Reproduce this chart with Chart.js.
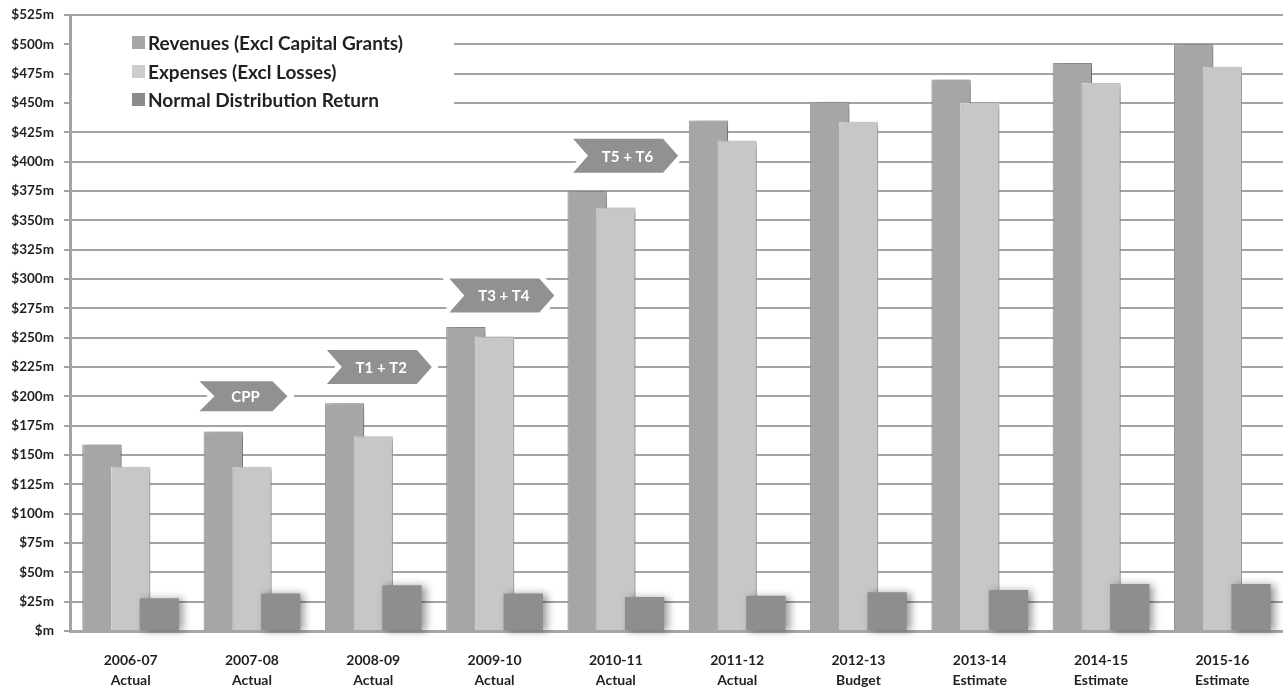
<!DOCTYPE html>
<html>
<head>
<meta charset="utf-8">
<script src="https://cdn.jsdelivr.net/npm/chart.js@4/dist/chart.umd.min.js"></script>
<style>
  html, body { margin: 0; padding: 0; background: #fff; }
  #wrap { width: 1283px; height: 689px; }
</style>
</head>
<body>
<div id="wrap"><canvas id="chart"></canvas></div>
<script>
// Chart data ($m)
const years = ["2006-07", "2007-08", "2008-09", "2009-10", "2010-11", "2011-12", "2012-13", "2013-14", "2014-15", "2015-16"];
const stages = ["Actual", "Actual", "Actual", "Actual", "Actual", "Actual", "Budget", "Estimate", "Estimate", "Estimate"];

const revenues = [159, 170, 194, 259, 375, 435, 451, 470, 484, 500];
const expenses = [140, 140, 166, 251, 361, 418, 434, 450, 467, 481];
const ndr = [28, 32, 39, 32, 29, 30, 33, 35, 40, 40];

// Tranche markers: label, category position (index), value
const markerLabels = ["CPP", "T1 + T2", "T3 + T4", "T5 + T6"];
const markerCats = [0.93, 2.05, 3.06, 4.08];
const markerValues = [200, 225, 286, 405];

const FONT = "Lato";
const TEXT = "#231f20";

// Legend, tranche arrows and datasets (revenues drawn first, NDR last)
const decorations = {
    id: "decorations",
    beforeDatasetsDraw(chart) {
        const ctx = chart.ctx;
        const x = chart.scales.x, y = chart.scales.y;

        // white box under the legend
        ctx.save();
        ctx.fillStyle = "#fff";
        ctx.fillRect(x.left + 2, 25, 454 - x.left - 2, 95);

        // legend rows
        const rowY = [43, 72, 100];
        chart.data.datasets.forEach(function (ds, i) {
            ctx.fillStyle = ds.legendColor;
            ctx.fillRect(132, rowY[i] - 7, 13, 13);
            ctx.fillStyle = TEXT;
            ctx.font = "bold 19px " + FONT;
            ctx.textBaseline = "middle";
            ctx.textAlign = "left";
            ctx.fillText(ds.label, 148, rowY[i] + 1);
        });

        // tranche arrows
        markerLabels.forEach(function (label, i) {
            const cx = x.getPixelForValue(markerCats[i]);
            const cy = y.getPixelForValue(markerValues[i]);
            const w = i === 0 ? 88 : 105;
            const h = i === 0 ? 30 : 34;
            const tip = 15;
            const l = cx - w / 2, r = cx + w / 2, t = cy - h / 2, b = cy + h / 2;
            ctx.beginPath();
            ctx.moveTo(l, t);
            ctx.lineTo(r - tip, t);
            ctx.lineTo(r, cy);
            ctx.lineTo(r - tip, b);
            ctx.lineTo(l, b);
            ctx.lineTo(l + tip, cy);
            ctx.closePath();
            ctx.lineJoin = "miter";
            ctx.strokeStyle = "#fff";
            ctx.lineWidth = 10;
            ctx.stroke();
            ctx.fillStyle = "#919191";
            ctx.fill();
            ctx.fillStyle = "#fff";
            ctx.font = "bold 15px " + FONT;
            ctx.textAlign = "center";
            ctx.textBaseline = "middle";
            ctx.fillText(label, cx + 2, cy + 1);
        });
        ctx.restore();

        // bars with a soft drop shadow, in dataset order
        const metas = chart.getSortedVisibleDatasetMetas().slice().sort(function (a, b) { return a.index - b.index; });
        metas.forEach(function (meta) {
            ctx.save();
            ctx.shadowColor = "rgba(0,0,0,0.4)";
            ctx.shadowBlur = 8;
            ctx.shadowOffsetX = 4;
            ctx.shadowOffsetY = 1;
            meta.controller.draw();
            ctx.restore();
        });
        return false;
    }
};

new Chart(document.getElementById("chart"), {
    type: "bar",
    data: {
        labels: years.map(function (yr, i) { return [yr, stages[i]]; }),
        datasets: [
            {
                label: "Revenues (Excl Capital Grants)",
                data: revenues,
                backgroundColor: "#a6a6a6",
                borderColor: "#9c9c9c",
                borderWidth: 1,
                legendColor: "#a6a6a6"
            },
            {
                label: "Expenses (Excl Losses)",
                data: expenses,
                backgroundColor: "#c7c7c7",
                borderColor: "#e2e2e2",
                borderWidth: 1,
                legendColor: "#cdcdcd"
            },
            {
                label: "Normal Distribution Return",
                data: ndr,
                backgroundColor: "#8e8e90",
                borderWidth: 0,
                legendColor: "#8c8c8c"
            }
        ]
    },
    options: {
        responsive: true,
        maintainAspectRatio: false,
        animation: false,
        categoryPercentage: 0.71,
        barPercentage: 1.37,
        layout: { padding: { top: 15, right: 0, left: 0, bottom: 0 } },
        plugins: {
            legend: { display: false },
            tooltip: { enabled: false }
        },
        scales: {
            x: {
                grid: { display: false },
                border: { display: true, color: "#a6a6a6", width: 3 },
                ticks: {
                    color: TEXT,
                    padding: 11,
                    maxRotation: 0,
                    autoSkip: false,
                    font: { family: FONT, weight: "bold", size: 14, lineHeight: 1.45 }
                },
                afterFit: function (scale) { scale.height = 58; }
            },
            y: {
                min: 0,
                max: 525,
                grid: { color: "#a3a3a3", lineWidth: 2, tickLength: 6 },
                border: { display: true, color: "#a3a3a3", width: 3 },
                ticks: {
                    stepSize: 25,
                    color: TEXT,
                    padding: 10,
                    font: { family: FONT, weight: "bold", size: 13.5 },
                    callback: function (v) { return "$" + (v === 0 ? "" : v) + "m"; }
                },
                afterFit: function (scale) {
                    scale.width = 70;
                    scale.paddingTop = 0;
                    scale.paddingBottom = 0;
                }
            }
        }
    },
    plugins: [decorations]
});
</script>
</body>
</html>
